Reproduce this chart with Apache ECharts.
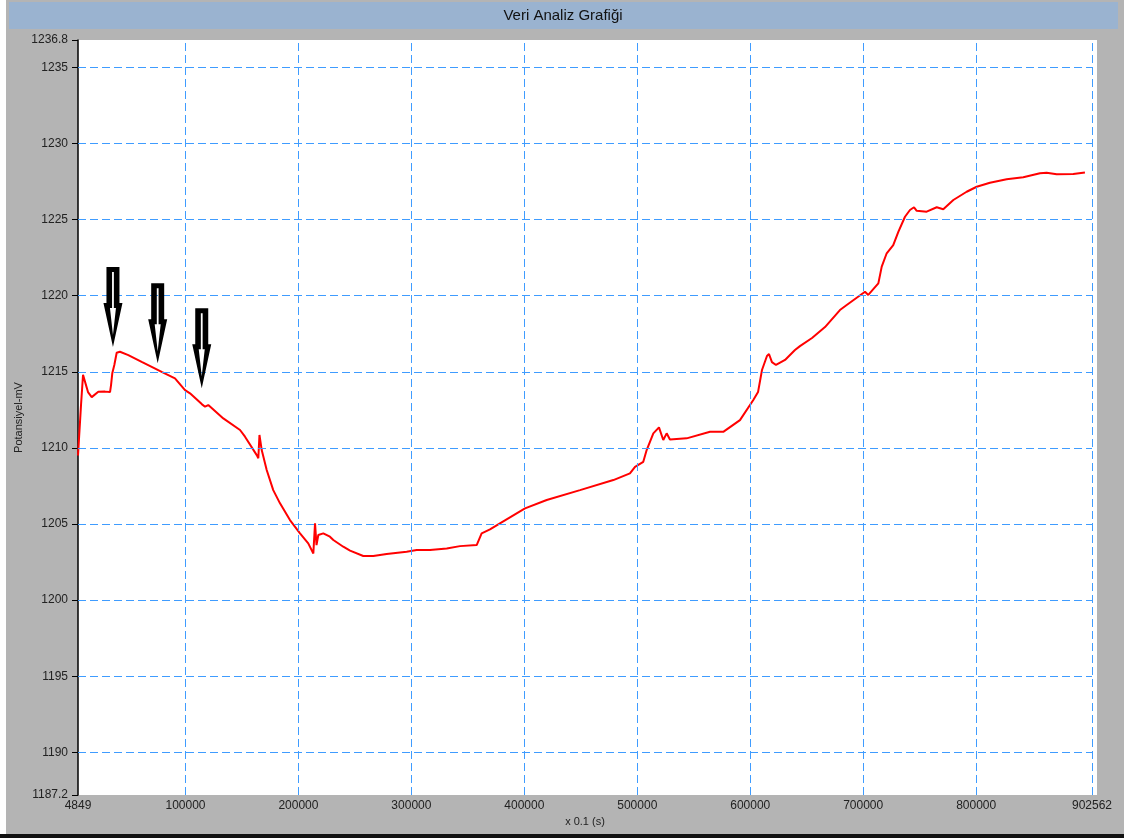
<!DOCTYPE html>
<html>
<head>
<meta charset="utf-8">
<title>Veri Analiz Grafiği</title>
<script src="https://cdn.jsdelivr.net/npm/echarts@6/dist/echarts.min.js"></script>
<style>
  html, body { margin: 0; padding: 0; background: #ffffff; }
  #chart { width: 1124px; height: 838px; }
</style>
</head>
<body>
<div id="chart"></div>
<script>
// x 0.1 (s)
var timeVals = [4849, 7500, 9300, 10200, 13700, 17000, 22800, 28800, 33200, 34100,
  35200, 37000, 39100, 42000, 49400, 61200, 70100, 78900, 90700, 99600,
  104000, 114400, 117300, 120200, 133500, 148300, 152700, 163100, 164500, 165500,
  167500, 171900, 177700, 183700, 192500, 201400, 208700, 213200, 214700, 216000,
  217600, 222000, 227900, 230900, 239700, 245700, 257400, 266300, 278100, 295800,
  304700, 316500, 331300, 343000, 357800, 362200, 369600, 378400, 400600, 419800,
  449300, 478800, 493500, 498000, 505300, 508300, 514200, 519200, 523000, 526000,
  528900, 543700, 564400, 576100, 590900, 602700, 606900, 610400, 614800, 616600,
  619200, 622800, 630800, 639600, 644000, 654700, 666200, 679400, 685400, 701600,
  704500, 713400, 716400, 720800, 726600, 731100, 737000, 741400, 745000, 747400,
  756200, 765100, 770900, 779800, 791600, 800500, 812200, 827000, 841700, 856500,
  862400, 871300, 886000, 896300];
// Potansiyel-mV
var potVals = [1209.5, 1212.8, 1214.8, 1214.7, 1213.67, 1213.34, 1213.69, 1213.7, 1213.67, 1214.13,
  1214.9, 1215.45, 1216.25, 1216.32, 1216.1, 1215.66, 1215.33, 1215.0, 1214.57, 1213.8,
  1213.59, 1212.88, 1212.71, 1212.82, 1211.94, 1211.18, 1210.74, 1209.53, 1209.32, 1210.85,
  1209.86, 1208.55, 1207.23, 1206.36, 1205.26, 1204.39, 1203.73, 1203.07, 1205.05, 1203.62,
  1204.28, 1204.39, 1204.17, 1203.95, 1203.51, 1203.25, 1202.9, 1202.9, 1203.03, 1203.18,
  1203.29, 1203.29, 1203.4, 1203.55, 1203.62, 1204.39, 1204.65, 1205.05, 1206.03, 1206.58,
  1207.23, 1207.89, 1208.33, 1208.76, 1209.09, 1209.86, 1210.96, 1211.35, 1210.52, 1210.96,
  1210.56, 1210.63, 1211.06, 1211.06, 1211.83, 1213.15, 1213.67, 1215.12, 1216.04, 1216.17,
  1215.64, 1215.45, 1215.78, 1216.43, 1216.69, 1217.22, 1217.94, 1219.06, 1219.39, 1220.26,
  1220.05, 1220.81, 1221.91, 1222.79, 1223.33, 1224.2, 1225.19, 1225.63, 1225.81, 1225.58,
  1225.52, 1225.81, 1225.68, 1226.29, 1226.83, 1227.16, 1227.42, 1227.65, 1227.78, 1228.04,
  1228.08, 1227.98, 1228.0, 1228.1];

var xMin = 4849, xMax = 902562;
var yMin = 1187.2, yMax = 1236.8;
var xTickVals = [4849, 100000, 200000, 300000, 400000, 500000, 600000, 700000, 800000, 902562];
var yTickVals = [1187.2, 1190, 1195, 1200, 1205, 1210, 1215, 1220, 1225, 1230, 1235, 1236.8];
var xGridVals = [100000, 200000, 300000, 400000, 500000, 600000, 700000, 800000, 902562];
var yGridVals = [1190, 1195, 1200, 1205, 1210, 1215, 1220, 1225, 1230, 1235];
// arrow tips [x, y]
var arrowTips = [[35800, 1216.63], [75400, 1215.56], [114400, 1213.92]];

var font = '"Liberation Sans", Arial, sans-serif';
// hollow down arrow: outer outline plus reversed inner slit (hole)
var arrowPath = 'path://M3 0 L16 0 L16 36 L19 36 L9.5 80 L0 36 L3 36 Z ' +
  'M8.6 5 L8.6 41 L6.5 41 L9.5 68 L12.5 41 L10.4 41 L10.4 5 Z';

var chart = echarts.init(document.getElementById('chart'));

var gridMarks = yGridVals.map(function (v) { return { yAxis: v }; })
  .concat(xGridVals.map(function (v) { return { xAxis: v }; }));

chart.setOption({
  animation: false,
  backgroundColor: '#ffffff',
  textStyle: { fontFamily: font },
  graphic: [
    { type: 'rect', z: -10, shape: { x: 6, y: 0, width: 1118, height: 834 }, style: { fill: '#b4b4b4' } },
    { type: 'rect', z: -9, shape: { x: 9, y: 2, width: 1109, height: 27 }, style: { fill: '#9ab3d0' } },
    { type: 'rect', z: -9, shape: { x: 0, y: 834, width: 1124, height: 4 }, style: { fill: '#111111' } },
    { type: 'rect', z: -9, shape: { x: 1092, y: 40, width: 5, height: 755 }, style: { fill: '#ffffff' } },
    { type: 'text', z: 10, style: { x: 563, y: 16, text: 'Veri Analiz Grafiği', fill: '#111111',
      font: '15px ' + font, textAlign: 'center', textVerticalAlign: 'middle' } }
  ],
  grid: {
    left: 78, top: 40, width: 1014, height: 755,
    show: true, backgroundColor: '#ffffff', borderWidth: 0
  },
  xAxis: {
    type: 'value', min: xMin, max: xMax,
    name: 'x 0.1 (s)', nameLocation: 'middle', nameGap: 20,
    nameTextStyle: { color: '#222222', fontSize: 11 },
    axisLine: { show: false },
    axisTick: { show: false, customValues: xTickVals },
    splitLine: { show: false },
    axisLabel: {
      customValues: xTickVals, color: '#222222', fontSize: 12, margin: 5,
      formatter: function (v) { return String(v); }
    }
  },
  yAxis: {
    type: 'value', min: yMin, max: yMax,
    name: 'Potansiyel-mV', nameLocation: 'middle', nameGap: 54, nameMoveOverlap: false,
    nameTextStyle: { color: '#222222', fontSize: 11 },
    axisLine: { show: true, lineStyle: { color: '#000000', width: 1.5 } },
    axisTick: { show: true, length: 6, customValues: yTickVals, lineStyle: { color: '#000000', width: 1 } },
    splitLine: { show: false },
    axisLabel: {
      customValues: yTickVals, color: '#222222', fontSize: 12, margin: 10,
      formatter: function (v) { return String(v); }
    }
  },
  series: [
    {
      type: 'line', data: [], z: 1, silent: true,
      markLine: {
        silent: true, symbol: 'none', label: { show: false },
        lineStyle: { color: '#3f9cff', width: 1, type: [8, 4] },
        data: gridMarks
      }
    },
    {
      type: 'line', z: 3, silent: true, showSymbol: false,
      data: timeVals.map(function (t, i) { return [t, potVals[i]]; }),
      lineStyle: { color: '#ff0000', width: 2 },
      itemStyle: { color: '#ff0000' },
      markPoint: {
        silent: true,
        symbol: arrowPath, symbolSize: [19, 80], symbolOffset: [0, '-50%'],
        label: { show: false },
        itemStyle: { color: '#000000', borderWidth: 0 },
        data: arrowTips.map(function (p) { return { coord: p }; })
      }
    }
  ]
});
</script>
</body>
</html>
